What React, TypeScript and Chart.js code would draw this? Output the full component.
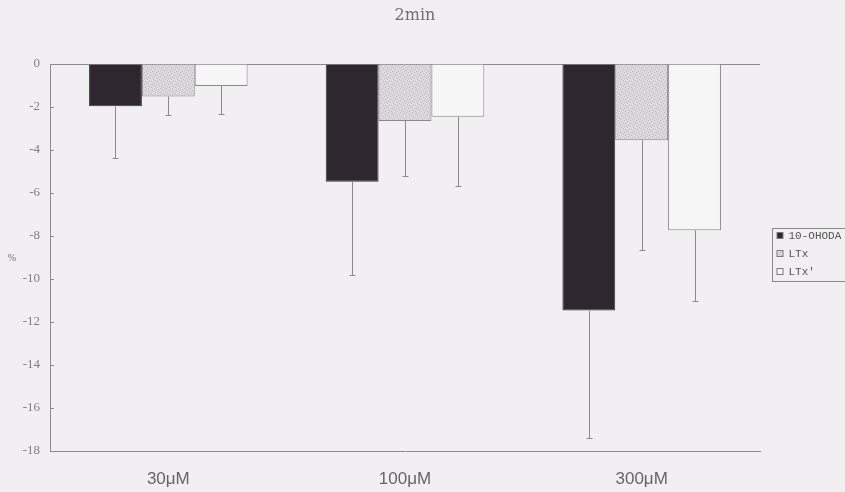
import React, { useEffect, useRef } from "react";
import { Chart, registerables } from "chart.js";

Chart.register(...registerables);

const categories = ["30μM", "100μM", "300μM"];
const seriesNames = ["10-OHODA", "LTx", "LTx'"];
const ohodaValues = [-1.97, -5.48, -11.47];
const ohodaErrors = [2.38, 4.33, 5.92];
const ltxValues = [-1.51, -2.65, -3.55];
const ltxErrors = [0.88, 2.58, 5.12];
const ltxPrimeValues = [-1.02, -2.45, -7.73];
const ltxPrimeErrors = [1.29, 3.24, 3.3];
const chartTitle = "2min";
const yAxisLabel = "%";
const yMin = -18;
const yMax = 0;
const yStep = 2;

const BG = "#f1eff1";
const AXIS = "#8c8a8c";

function makeStipple(): CanvasPattern | string {
  const c = document.createElement("canvas");
  c.width = 6;
  c.height = 6;
  const g = c.getContext("2d");
  if (!g) return "#d6d4d6";
  g.fillStyle = "#dcdadc";
  g.fillRect(0, 0, 6, 6);
  g.fillStyle = "#b9b7b9";
  const dots = [
    [0, 0], [3, 1], [1, 3], [4, 4], [5, 2], [2, 5],
  ];
  dots.forEach(([x, y]) => g.fillRect(x, y, 1, 1));
  const p = g.createPattern(c, "repeat");
  return p || "#d6d4d6";
}

const errorsBySeries = [ohodaErrors, ltxErrors, ltxPrimeErrors];

const overlayPlugin = {
  id: "overlay",
  beforeDraw(chart: any) {
    const { ctx, width, height } = chart;
    ctx.save();
    ctx.fillStyle = BG;
    ctx.fillRect(0, 0, width, height);
    ctx.restore();
  },
  afterDatasetsDraw(chart: any) {
    const { ctx } = chart;
    const yScale = chart.scales.y;
    ctx.save();
    ctx.strokeStyle = AXIS;
    ctx.lineWidth = 1;
    chart.data.datasets.forEach((ds: any, di: number) => {
      const meta = chart.getDatasetMeta(di);
      meta.data.forEach((el: any, i: number) => {
        const v = ds.data[i];
        const e = errorsBySeries[di][i];
        const x = Math.round(el.x) + 0.5;
        const y0 = el.y;
        const y1 = Math.round(yScale.getPixelForValue(v - e)) + 0.5;
        ctx.beginPath();
        ctx.moveTo(x, y0);
        ctx.lineTo(x, y1);
        ctx.moveTo(x - 3, y1);
        ctx.lineTo(x + 3, y1);
        ctx.stroke();
      });
    });
    ctx.restore();
  },
  afterDraw(chart: any) {
    const { ctx, chartArea } = chart;
    const yScale = chart.scales.y;
    ctx.save();
    // inside tick marks on y axis
    ctx.strokeStyle = AXIS;
    ctx.lineWidth = 1;
    yScale.ticks.forEach((t: any) => {
      const y = Math.round(yScale.getPixelForValue(t.value)) + 0.5;
      ctx.beginPath();
      ctx.moveTo(chartArea.left, y);
      ctx.lineTo(chartArea.left + 4, y);
      ctx.stroke();
    });
    // title
    ctx.fillStyle = "#707070";
    ctx.font = "16px 'DejaVu Serif'";
    ctx.textAlign = "center";
    ctx.textBaseline = "middle";
    ctx.fillText(chartTitle, 415, 16);
    // y axis label
    ctx.font = "10px 'Liberation Serif'";
    ctx.fillStyle = "#707070";
    ctx.fillText(yAxisLabel, 12, (chartArea.top + chartArea.bottom) / 2 + 1);
    // legend
    const lx = 772.5;
    const ly = 228.5;
    ctx.strokeStyle = "#8a888a";
    ctx.lineWidth = 1;
    ctx.strokeRect(lx, ly, 90, 53);
    ctx.font = "11px 'Liberation Mono'";
    ctx.textAlign = "left";
    ctx.textBaseline = "middle";
    chart.data.datasets.forEach((ds: any, i: number) => {
      const cy = ly + 7 + i * 18;
      ctx.fillStyle = ds.backgroundColor;
      ctx.fillRect(lx + 4.5, cy - 3, 6, 6);
      ctx.strokeStyle = "#7a787a";
      ctx.strokeRect(lx + 4.5, cy - 3, 6, 6);
      ctx.fillStyle = "#555";
      ctx.fillText(ds.label, lx + 16, cy + 1);
    });
    ctx.restore();
  },
};

export default function App() {
  const ref = useRef<HTMLCanvasElement>(null);

  useEffect(() => {
    document.body.style.margin = "0";
    document.body.style.background = BG;
    const canvas = ref.current;
    if (!canvas) return;
    const stipple = makeStipple();
    const chart = new Chart(canvas, {
      type: "bar",
      data: {
        labels: categories,
        datasets: [
          {
            label: seriesNames[0],
            data: ohodaValues,
            backgroundColor: "#2e2730",
            borderColor: "#3a343a",
            borderWidth: 1,
          },
          {
            label: seriesNames[1],
            data: ltxValues,
            backgroundColor: stipple as any,
            borderColor: "#8a888a",
            borderWidth: 1,
          },
          {
            label: seriesNames[2],
            data: ltxPrimeValues,
            backgroundColor: "#f7f6f7",
            borderColor: "#8a888a",
            borderWidth: 1,
          },
        ],
      },
      options: {
        animation: false,
        responsive: false,
        maintainAspectRatio: false,
        layout: { padding: { top: 64, right: 85, left: 0, bottom: 0 } },
        datasets: {
          bar: { categoryPercentage: 0.67, barPercentage: 1.0 },
        },
        plugins: {
          legend: { display: false },
          title: { display: false },
          tooltip: { enabled: false },
        },
        scales: {
          x: {
            grid: { display: false },
            border: { display: true, color: AXIS, width: 1 },
            ticks: {
              color: "#666",
              font: { family: "'Liberation Sans'", size: 17 },
              padding: 10,
            },
            afterFit: (scale: any) => {
              scale.height = 41;
            },
          },
          y: {
            min: yMin,
            max: yMax,
            border: { display: true, color: AXIS, width: 1 },
            grid: {
              color: (c: any) =>
                c.tick && c.tick.value === 0 ? AXIS : "rgba(0,0,0,0)",
              drawTicks: false,
            },
            ticks: {
              stepSize: yStep,
              color: "#808080",
              font: { family: "'Liberation Serif'", size: 13 },
              padding: 10,
            },
            afterFit: (scale: any) => {
              scale.width = 50;
            },
          },
        },
      },
      plugins: [overlayPlugin],
    });
    return () => chart.destroy();
  }, []);

  return (
    <div style={{ width: 845, height: 492, background: BG }}>
      <canvas ref={ref} width={845} height={492} style={{ display: "block" }} />
    </div>
  );
}
